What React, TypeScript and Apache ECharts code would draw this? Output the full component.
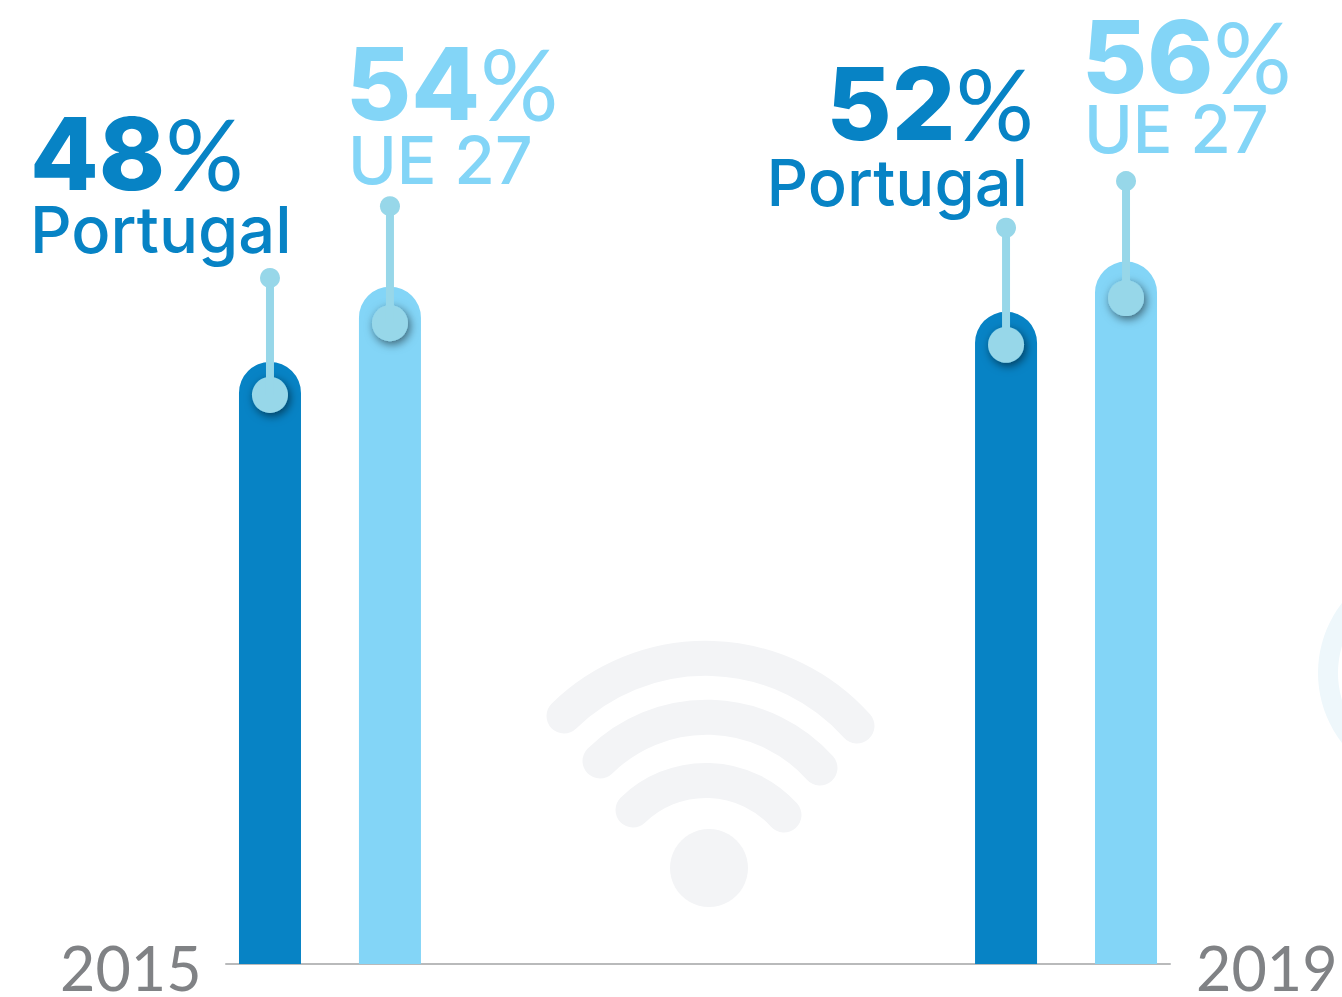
import React, { useEffect, useRef } from "react";
import * as echarts from "echarts";

const years = [2015, 2019];
const yearLabels = ["2015", "2019"];
const portugal = [48, 52];
const ue27 = [54, 56];
const seriesNames = ["Portugal", "UE 27"];

const DARK = "#0783c5";
const LIGHT = "#83d5f7";
const PIN = "#97d7e9";
const GREY = "#808285";
const FONT = "Lato";
const WORD_FONT = "Inter";

echarts.graphic.registerShape("wifiOuter", echarts.graphic.extendPath("M564 716 A203 203 0 0 1 857 726", {}));
echarts.graphic.registerShape("wifiMiddle", echarts.graphic.extendPath("M600 761 A152 152 0 0 1 820 768", {}));
echarts.graphic.registerShape("wifiInner", echarts.graphic.extendPath("M633 810 A105 105 0 0 1 784 815", {}));

const pct = (x: number, y: number, v: number, color: string, extra: any = {}) => ({
  type: "text",
  x,
  y,
  style: {
    text: `{n|${v}}{p|%}`,
    rich: {
      n: { fontFamily: WORD_FONT, fontWeight: 800, fontSize: 100, fill: color, lineHeight: 76 },
      p: { fontFamily: FONT, fontWeight: 400, fontSize: 98, fill: color, lineHeight: 76 },
    },
    verticalAlign: "middle",
    ...extra,
  },
});

const word = (x: number, y: number, s: string, color: string, size: number, weight: number, family: string, extra: any = {}) => ({
  type: "text",
  x,
  y,
  style: { text: s, fill: color, fontFamily: family, fontSize: size, fontWeight: weight, lineHeight: 48, verticalAlign: "middle", ...extra },
});

const pinSeries = (name: string, values: number[], offset: number, drop: number) => ({
  type: "custom",
  name: name + " pin",
  silent: true,
  z: 5,
  data: values.map((v, i) => [years[i] + offset, v]),
  renderItem: (_p: any, api: any) => {
    const [cx, top] = api.coord([api.value(0), api.value(1)]);
    const bigY = top + drop;
    const smallY = bigY - 117;
    return {
      type: "group",
      children: [
        { type: "circle", shape: { cx, cy: bigY, r: 18 }, style: { fill: PIN, shadowBlur: 10, shadowColor: "rgba(0,0,0,0.55)", shadowOffsetX: 2, shadowOffsetY: 3 } },
        { type: "rect", shape: { x: cx - 4, y: smallY, width: 8, height: 117 }, style: { fill: PIN } },
        { type: "circle", shape: { cx, cy: smallY, r: 10 }, style: { fill: PIN } },
      ],
    };
  },
});

export default function App() {
  const ref = useRef<HTMLDivElement>(null);
  useEffect(() => {
    const chart = echarts.init(ref.current!, null, { renderer: "svg" });
    const wifiStyle = { fill: "none", stroke: "#f3f4f6", lineWidth: 35, lineCap: "round" };
    chart.setOption({
      animation: false,
      backgroundColor: "#ffffff",
      grid: { left: 226, right: 172, top: 86, bottom: 33 },
      xAxis: {
        type: "value",
        min: 2014.435,
        max: 2019.565,
        axisLine: { show: true, onZero: false, lineStyle: { color: "#b9babb", width: 2 } },
        axisTick: { show: false },
        axisLabel: { show: false },
        splitLine: { show: false },
      },
      yAxis: { type: "value", min: 0, max: 70, show: false, splitLine: { show: false } },
      series: [
        {
          type: "bar",
          name: seriesNames[0],
          barWidth: 62,
          barGap: "93.5%",
          data: portugal.map((v, i) => [years[i], v]),
          itemStyle: { color: DARK, borderRadius: [31, 31, 0, 0] },
        },
        {
          type: "bar",
          name: seriesNames[1],
          barWidth: 62,
          barGap: "93.5%",
          data: ue27.map((v, i) => [years[i], v]),
          itemStyle: { color: LIGHT, borderRadius: [31, 31, 0, 0] },
        },
        pinSeries(seriesNames[0], portugal, -0.326, 33),
        pinSeries(seriesNames[1], ue27, 0.326, 36.5),
      ],
      graphic: [
        { type: "wifiOuter", x: 0, y: 0, style: wifiStyle, z: -1 },
        { type: "wifiMiddle", x: 0, y: 0, style: wifiStyle, z: -1 },
        { type: "wifiInner", x: 0, y: 0, style: wifiStyle, z: -1 },
        { type: "circle", shape: { cx: 709, cy: 868, r: 39 }, style: { fill: "#f3f4f6" }, z: -1 },
        { type: "ring", shape: { cx: 1432, cy: 673, r: 114, r0: 94 }, style: { fill: "#eef7fb" }, z: -1 },
        pct(30, 153, portugal[0], DARK),
        word(30, 229, seriesNames[0], DARK, 65, 500, WORD_FONT),
        pct(346, 83, ue27[0], LIGHT),
        word(348, 160, seriesNames[1], LIGHT, 66, 500, WORD_FONT),
        pct(1034, 103, portugal[1], DARK, { align: "right" }),
        word(1028, 182, seriesNames[0], DARK, 65, 500, WORD_FONT, { align: "right" }),
        pct(1082, 56, ue27[1], LIGHT),
        word(1084, 129, seriesNames[1], LIGHT, 66, 500, WORD_FONT),
        word(60, 967, yearLabels[0], GREY, 61, 400, FONT),
        word(1196, 967, yearLabels[1], GREY, 61, 400, FONT),
      ],
    });
    return () => chart.dispose();
  }, []);
  return <div ref={ref} style={{ position: "absolute", left: 0, top: 0, width: 1342, height: 997 }} />;
}
